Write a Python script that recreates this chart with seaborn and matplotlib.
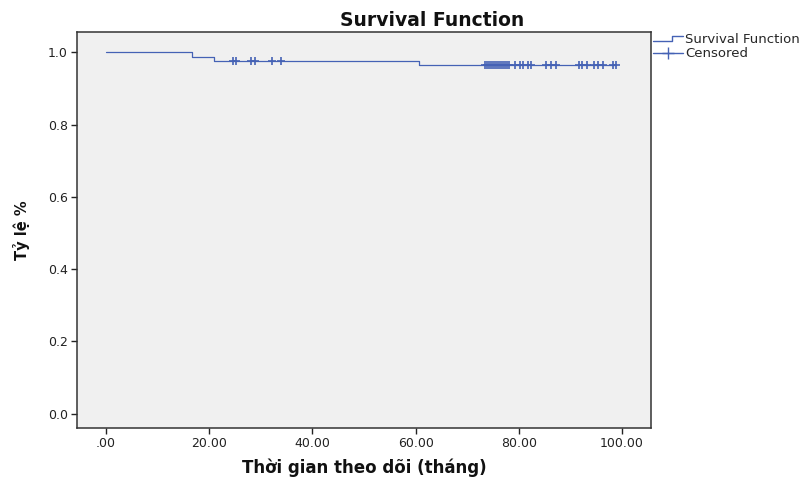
import numpy as np
import pandas as pd
import matplotlib
matplotlib.use("Agg")
import matplotlib.pyplot as plt
import seaborn as sns
from matplotlib.lines import Line2D
from matplotlib.legend_handler import HandlerBase

# Kaplan-Meier steps
step_times = [0.0, 16.6, 21.0, 60.7, 98.8]
step_surv = [1.0, 0.988, 0.976, 0.964, 0.964]

# censored follow-up times (months)
censored_times = [
    24.6, 25.2, 28.1, 28.9, 32.2, 33.9,
    73.4, 73.8, 74.2, 74.6, 75.0, 75.4, 75.8, 76.2, 76.6, 76.9, 77.3, 77.7, 78.1,
    79.3, 80.2, 80.8, 81.8, 82.4, 85.3, 86.2, 87.2,
    91.7, 92.2, 93.2, 94.6, 95.3, 96.3, 98.3, 98.8,
]

xticks = [0, 20, 40, 60, 80, 100]
xtick_labels = [".00", "20.00", "40.00", "60.00", "80.00", "100.00"]
yticks = [0.0, 0.2, 0.4, 0.6, 0.8, 1.0]
ytick_labels = ["0.0", "0.2", "0.4", "0.6", "0.8", "1.0"]

line_color = "#4562b5"

sns.set_theme(style="ticks")
plt.rcParams["font.family"] = ["DejaVu Sans"]

curve = pd.DataFrame({"time": step_times, "surv": step_surv})
# survival level at each censored time = level of the step in force
idx = np.searchsorted(step_times, censored_times, side="right") - 1
cens = pd.DataFrame({"time": censored_times, "surv": np.array(step_surv)[idx]})

fig = plt.figure(figsize=(8.03, 4.78), dpi=100)
ax = fig.add_axes([0.0959, 0.1046, 0.7148, 0.8285])
ax.set_facecolor("#f0f0f0")

sns.lineplot(data=curve, x="time", y="surv", drawstyle="steps-post",
             color=line_color, linewidth=0.9, ax=ax)
sns.scatterplot(data=cens, x="time", y="surv", marker="+", s=28,
                color=line_color, linewidth=1.2, ax=ax)

ax.set_xlim(-5.6, 105.6)
ax.set_ylim(-0.040, 1.0565)
ax.set_xticks(xticks)
ax.set_xticklabels(xtick_labels)
ax.set_yticks(yticks)
ax.set_yticklabels(ytick_labels)
ax.tick_params(axis="both", direction="out", length=4.5, width=1.0,
               color="#222222", labelsize=9, labelcolor="#222222", pad=2)

for sp in ax.spines.values():
    sp.set_visible(True)
    sp.set_color("#333333")
    sp.set_linewidth(1.1)

ax.set_xlabel("Thời gian theo dõi (tháng)", fontsize=12, fontweight="bold",
              labelpad=6, color="#111111")
ax.set_ylabel("Tỷ lệ %", fontsize=10.5, fontweight="bold",
              labelpad=13, color="#111111")

fig.text(432 / 803, 1 - 20 / 478, "Survival Function", ha="center", va="center",
         fontsize=13.5, fontweight="bold", color="#111111")


class StepHandler(HandlerBase):
    def create_artists(self, legend, orig_handle, xdescent, ydescent,
                       width, height, fontsize, trans):
        x0, y0 = -xdescent, -ydescent
        xs = [x0, x0 + width * 0.62, x0 + width * 0.62, x0 + width]
        ys = [y0 + height * 0.25, y0 + height * 0.25, y0 + height * 0.8, y0 + height * 0.8]
        return [Line2D(xs, ys, color=orig_handle.get_color(),
                       lw=orig_handle.get_linewidth(), transform=trans)]


h_surv = Line2D([], [], color=line_color, lw=1.0)
h_cens = Line2D([], [], color=line_color, lw=1.0, marker="+", markersize=8)
fig.legend([h_surv, h_cens], ["Survival Function", "Censored"],
           loc="upper left", bbox_to_anchor=(653 / 803, 1 - 33 / 478),
           frameon=False, fontsize=9.5, handlelength=2.3, handletextpad=0.15,
           labelspacing=0.1, borderpad=0, borderaxespad=0,
           handler_map={h_surv: StepHandler()})

fig.savefig("out.png", dpi=100, facecolor="white")
